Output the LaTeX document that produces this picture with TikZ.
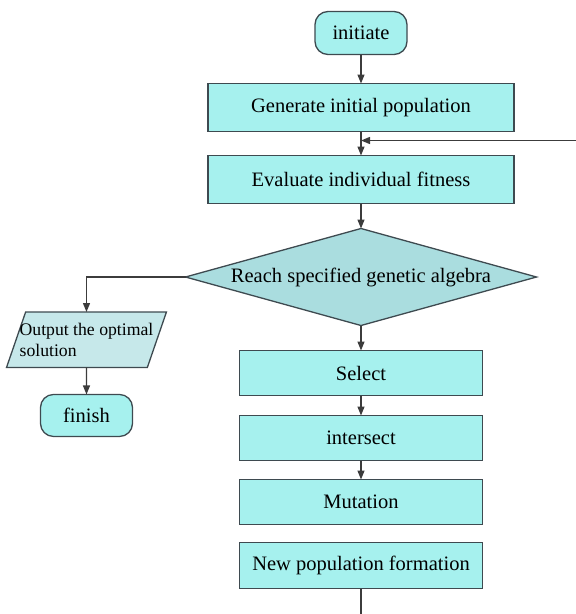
\documentclass[tikz,border=0pt]{standalone}
\usepackage{fontspec}
\setmainfont{Liberation Serif}
\usepackage{tikz}
\usetikzlibrary{shapes,arrows.meta,positioning,calc}

\definecolor{boxfill}{HTML}{A6F1EE}
\definecolor{decfill}{HTML}{AADDDF}
\definecolor{iofill}{HTML}{C6E8EA}
\definecolor{edge}{HTML}{3E4A50}
\definecolor{linegray}{HTML}{3C3C3C}

\begin{document}
\begin{tikzpicture}[
    every node/.style={font=\rmfamily\fontsize{20.5}{24}\selectfont, outer sep=0pt},
    terminal/.style={rectangle, draw=edge, line width=1.3pt, rounded corners=13pt, fill=boxfill, minimum width=92pt, minimum height=43pt, text centered},
    process/.style={rectangle, draw=edge, line width=1.3pt, fill=boxfill, minimum width=306pt, minimum height=48pt, text centered},
    smallproc/.style={process, minimum width=243pt, minimum height=45pt},
    decision/.style={diamond, draw=edge, line width=1.3pt, fill=decfill, aspect=3.6, inner sep=0pt, minimum width=351pt, minimum height=97pt},
    io/.style={trapezium, trapezium left angle=71, trapezium right angle=109, draw=edge, line width=1.3pt, fill=iofill, inner xsep=-6pt, inner ysep=11pt, align=left, font=\rmfamily\fontsize{17.7}{21}\selectfont},
    arrow/.style={-{Triangle[length=9pt,width=7pt]}, draw=linegray, line width=1.3pt}
]

\useasboundingbox (0,0) rectangle (576pt,-614pt);
\clip (0,0) rectangle (576pt,-614pt);

% Main column
\node[terminal] (init) at (361pt,-33pt) {initiate};
\node[process, below=29pt of init] (gen) {Generate initial population};
\node[process, below=24pt of gen] (eval) {Evaluate individual fitness};
\node[decision, below=25pt of eval] (reach) {Reach specified genetic algebra};
\node[smallproc, below=25pt of reach] (select) {Select};
\node[smallproc, below=20pt of select] (cross) {intersect};
\node[smallproc, below=19pt of cross] (mutate) {Mutation};
\node[smallproc, below=18pt of mutate, minimum height=46pt] (newpop) {New population formation};

% Exit branch
\node[io, below=35pt of reach.west, xshift=-99pt] (output) {Output the optimal\\solution};
\node[terminal, below=27pt of output, minimum height=42pt] (finish) {finish};

% Loop back points
\coordinate (join) at ($(gen.south)!0.375!(eval.north)$);
\coordinate (loopbot) at ($(newpop.south)+(0,-27.3pt)$);
\coordinate (loopright) at (600pt,0);

% Arrows
\draw[arrow] (init) -- (gen);
\draw[arrow] (gen) -- (eval);
\draw[arrow] (eval) -- (reach);
\draw[arrow] (reach) -- (select);
\draw[arrow] (select) -- (cross);
\draw[arrow] (cross) -- (mutate);
\draw[arrow] (reach.west) -| (output);
\draw[arrow] (output) -- (finish);
\draw[arrow] (newpop.south) -- (loopbot) -| (loopright |- join) -- (join);

\end{tikzpicture}
\end{document}
